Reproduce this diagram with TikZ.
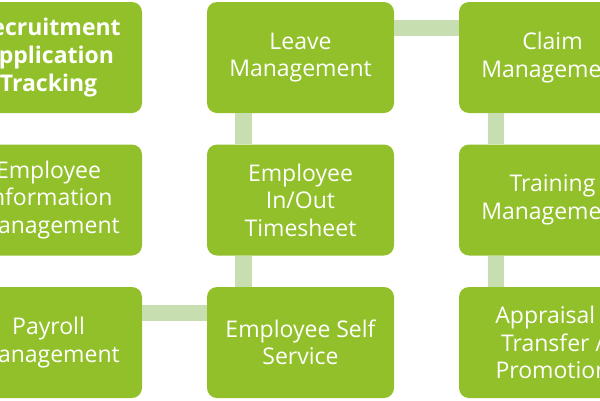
\documentclass[tikz,border=0pt]{standalone}
\usepackage{fontspec}
\setmainfont{Open Sans}
\definecolor{boxgreen}{HTML}{92C02A}
\definecolor{bargreen}{HTML}{C6DEB0}
\tikzset{
  procbox/.style={rounded corners=10pt, fill=boxgreen, draw=none,
    minimum width=187pt, minimum height=111pt, inner sep=0pt,
    text=white, align=center, font=\fontsize{23}{27.6}\selectfont},
  barline/.style={draw=bargreen, line width=16.5pt, line cap=butt}
}
\begin{document}
\begin{tikzpicture}[x=1pt,y=-1pt]
\useasboundingbox (0,0) rectangle (600,400);
\clip (0,0) rectangle (600,400);
% boxes
\node[procbox, font=\fontsize{23}{27.6}\selectfont\bfseries] (rec) at (48.5,57.5) {Recruitment\\Application\\Tracking};
\node[procbox] (leave) at (300.5,57.5) {Leave\\Management};
\node[procbox] (claim) at (552.5,57.5) {Claim\\Management};
\node[procbox] (info) at (48.5,200) {Employee\\Information\\Management};
\node[procbox] (inout) at (300.5,200) {Employee\\In/Out\\Timesheet};
\node[procbox] (train) at (552.5,200) {Training\\Management};
\node[procbox] (pay) at (48.5,342.5) {Payroll\\Management};
\node[procbox] (self) at (300.5,342.5) {Employee Self\\Service};
\node[procbox] (appr) at (552.5,342.5) {Appraisal /\\Transfer /\\Promotion};
% connectors
\draw[barline] ([yshift=29.5pt]pay.east) -- ([yshift=29.5pt]self.west);
\draw[barline] ([xshift=-57pt]self.north) -- ([xshift=-57pt]inout.south);
\draw[barline] ([xshift=-57pt]inout.north) -- ([xshift=-57pt]leave.south);
\draw[barline] ([yshift=29.5pt]leave.east) -- ([yshift=29.5pt]claim.west);
\draw[barline] ([xshift=-56.5pt]claim.south) -- ([xshift=-56.5pt]train.north);
\draw[barline] ([xshift=-56.5pt]train.south) -- ([xshift=-56.5pt]appr.north);
\end{tikzpicture}
\end{document}
